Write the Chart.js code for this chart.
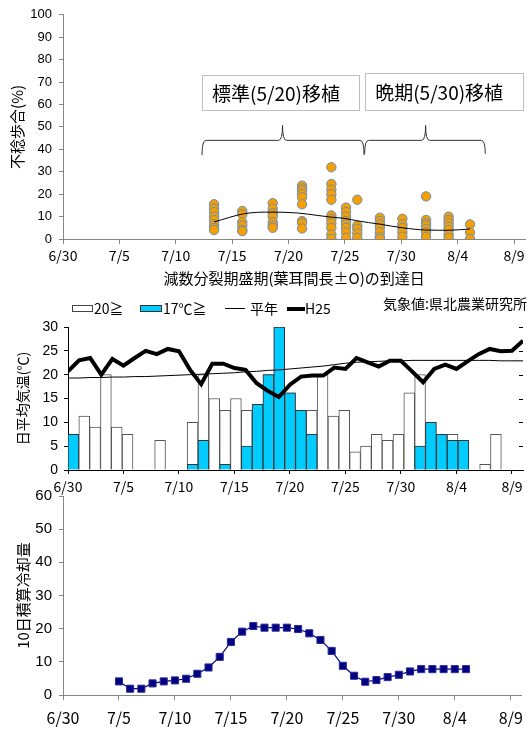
<!DOCTYPE html>
<html><head><meta charset="utf-8">
<script src="https://cdn.jsdelivr.net/npm/chart.js@4/dist/chart.umd.min.js"></script>
<style>
html,body{margin:0;padding:0;background:#fff;}
#wrap{position:relative;width:531px;height:729px;overflow:hidden;font-family:'Noto Sans CJK JP',sans-serif;color:#000;}
canvas{position:absolute;left:0;top:0;width:531px;height:729px;}
.lt{position:absolute;font-size:14px;line-height:16px;white-space:nowrap;}
.sw{position:absolute;box-sizing:border-box;}
</style></head><body>
<div id="wrap">
<canvas id="c1" width="531" height="729"></canvas>
<canvas id="c2" width="531" height="729"></canvas>
<canvas id="c3" width="531" height="729"></canvas>
<div class="sw" style="left:72px;top:305px;width:21px;height:7px;border:1px solid #444;background:#fff;"></div>
<div class="lt" style="left:94px;top:300px;">20≧</div>
<div class="sw" style="left:140px;top:305px;width:22px;height:7px;border:1px solid #333;background:#00CCFF;"></div>
<div class="lt" style="left:163px;top:300px;">17℃≧</div>
<div class="sw" style="left:225px;top:308px;width:20px;height:1px;background:#000;"></div>
<div class="lt" style="left:250px;top:300px;">平年</div>
<div class="sw" style="left:287px;top:307px;width:18px;height:4px;background:#000;"></div>
<div class="lt" style="left:305px;top:300px;">H25</div>
<div class="lt" style="left:383px;top:295px;">気象値:県北農業研究所</div>
</div>
<script>
// ---------- data ----------
const tickDays = [0, 5, 10, 15, 20, 25, 30, 35, 40];
const dayTickLabels = ['6/30', '7/5', '7/10', '7/15', '7/20', '7/25', '7/30', '8/4', '8/9'];

// top panel: sterility (%) by date of meiosis peak (days after 6/30)
const colDays = [13.4, 15.9, 18.6, 21.2, 23.8, 25.1, 26.1, 28.1, 30.1, 32.2, 34.2, 36.1];
const colValues = [
  [15.5, 13.5, 12, 10, 8.5, 6.5, 5, 4],
  [12.5, 11, 7.5, 6, 4, 3.5],
  [16, 13.5, 11.5, 10, 7.5, 6, 5],
  [23.8, 22.5, 21.6, 20, 18.6, 15.5, 8, 7.2, 4.7],
  [32, 24.5, 22, 20, 17.5, 10.5, 9, 7, 5, 2, 0],
  [14, 12, 10, 8, 6.5, 5, 3, 0.5],
  [17.5, 6, 4.5, 2.5, 0.5],
  [9.5, 8, 6.5, 5, 3, 1, 0],
  [9, 6.5, 5, 3, 1],
  [19, 8.5, 7, 6, 4.5, 3, 1],
  [10, 8.5, 7, 5.5, 4, 2, 0.5],
  [6.5, 3, 0]
];
const trendX = [13.4, 16.1, 18.4, 20.8, 22.6, 23.7, 25.1, 26.1, 28.1, 30.1, 32.2, 34.2, 36.1];
const trendY = [7.6, 11.3, 12.0, 11.6, 10.5, 9.8, 9.1, 8.1, 6.6, 5.0, 4.0, 3.9, 4.5];
const plantingLabels = ['標準(5/20)移植', '晩期(5/30)移植'];

// middle panel: daily values from 6/30 (42 days)
const white20 = [7.5, 11.3, 9, 20, 9, 7.5, null, null, 6.2, null, null, 10, 20, 15, 12.5, 15, 12.5, 13.8, 20, 30, 16.2, 12.5, 12.5, 20, 11.3, 12.5, 3.8, 5, 7.5, 6.2, 7.5, 16.2, 20, 10, 7.5, 7.5, 6.2, null, 1.2, 7.5, null, null];
const cyan17 = [7.5, null, null, null, null, null, null, null, null, null, null, 1.2, 6.2, null, 1.2, null, 5, 13.8, 20, 30, 16.2, 12.5, 7.5, null, null, null, null, null, null, null, null, null, 5, 10, 7.5, 6.2, 6.2, null, null, null, null, null];
const h25 = [20.7, 23.0, 23.5, 20.0, 23.3, 21.9, 23.5, 25.0, 24.3, 25.4, 24.9, 21.0, 18.0, 22.3, 22.3, 21.4, 21.0, 18.2, 16.6, 15.3, 17.9, 19.6, 19.8, 19.8, 21.5, 21.2, 23.5, 22.6, 21.7, 22.9, 22.9, 20.7, 18.4, 21.2, 22.1, 21.2, 22.8, 24.3, 25.4, 24.9, 25.0, 27.1];
const normal = [19.3, 19.3, 19.4, 19.4, 19.5, 19.5, 19.6, 19.6, 19.7, 19.8, 19.9, 20.0, 20.1, 20.2, 20.3, 20.4, 20.6, 20.7, 20.9, 21.0, 21.2, 21.4, 21.6, 21.8, 22.1, 22.4, 22.6, 22.7, 22.8, 22.9, 22.9, 23.0, 23.0, 23.0, 23.0, 23.0, 23.0, 23.0, 23.0, 22.9, 22.9, 22.9];

// bottom panel: 10-day accumulated cooling, from 7/5 (day 5) to 8/5
const coolStartDay = 5;
const cool = [4.1, 1.9, 1.9, 3.5, 4.1, 4.4, 4.9, 6.4, 8.3, 11.5, 16.0, 19.1, 20.8, 20.3, 20.3, 20.3, 19.9, 18.6, 16.6, 13.3, 8.8, 5.8, 4.0, 4.5, 5.4, 6.1, 7.1, 7.8, 7.8, 7.8, 7.8, 7.8];

// ---------- styling ----------
const JP = "'Noto Sans CJK JP', sans-serif";
const NUM = "'Liberation Sans', Arial, sans-serif";
const GRAY = '#868686';
Chart.defaults.color = '#000';
const annot = {
  boxes: [{x0: 12.33, x1: 26.26, y0: 57.3, y1: 73.1}, {x0: 26.8, x1: 40.8, y0: 57.7, y1: 74}],
  braces: [{x0: 12.33, xm: 19.47, x1: 26.7, yTop: 44, yTip: 50.7, yEnd: 37.4},
           {x0: 26.75, xm: 32.16, x1: 37.45, yTop: 44, yTip: 50.7, yEnd: 38.0}]
};

function dateAxis(extra) {
  return Object.assign({
    type: 'linear', min: 0, max: 41, offset: false,
    afterBuildTicks: s => { s.ticks = tickDays.map(v => ({value: v})); },
  }, extra);
}
const baseOpts = {responsive: false, maintainAspectRatio: false, animation: false, devicePixelRatio: 1,
  events: []};

// ---------- chart 1 ----------
const dots = [];
colDays.forEach((d, i) => colValues[i].forEach(v => dots.push({x: d, y: v})));

const annotPlugin = {
  id: 'annot',
  afterDraw(chart) {
    const {ctx, scales: {x, y}} = chart;
    ctx.save();
    ctx.strokeStyle = '#333'; ctx.lineWidth = 1;
    annot.braces.forEach(b => {
      const x0 = x.getPixelForValue(b.x0), xm = x.getPixelForValue(b.xm), x1 = x.getPixelForValue(b.x1);
      const yt = y.getPixelForValue(b.yTop), yp = y.getPixelForValue(b.yTip), ye = y.getPixelForValue(b.yEnd);
      const r = 4;
      ctx.beginPath();
      ctx.moveTo(x0, ye);
      ctx.quadraticCurveTo(x0, yt, x0 + r, yt);
      ctx.lineTo(xm - r, yt);
      ctx.quadraticCurveTo(xm, yt, xm, yp);
      ctx.quadraticCurveTo(xm, yt, xm + r, yt);
      ctx.lineTo(x1 - r, yt);
      ctx.quadraticCurveTo(x1, yt, x1, ye);
      ctx.stroke();
    });
    annot.boxes.forEach((b, i) => {
      const l = x.getPixelForValue(b.x0), rr = x.getPixelForValue(b.x1);
      const t = y.getPixelForValue(b.y1), bt = y.getPixelForValue(b.y0);
      ctx.fillStyle = '#fff';
      ctx.fillRect(l, t, rr - l, bt - t);
      ctx.strokeStyle = '#BFBFBF';
      ctx.strokeRect(Math.round(l) + 0.5, Math.round(t) + 0.5, Math.round(rr - l), Math.round(bt - t));
      ctx.fillStyle = '#000';
      ctx.font = "19px " + JP;
      ctx.textBaseline = 'middle';
      ctx.textAlign = 'left';
      ctx.fillText(plantingLabels[i], l + 10, (t + bt) / 2 + 1);
    });
    ctx.restore();
  }
};

new Chart(document.getElementById('c1'), {
  type: 'scatter',
  data: {datasets: [
    {type: 'line', data: trendX.map((x, i) => ({x, y: trendY[i]})), borderColor: '#000', borderWidth: 1,
     pointRadius: 0, cubicInterpolationMode: 'monotone', order: 0},
    {data: dots, pointRadius: 4.7, pointBackgroundColor: '#F5A000', pointBorderColor: '#6A8DBA',
     pointBorderWidth: 1, order: 1}
  ]},
  options: Object.assign({}, baseOpts, {
    layout: {padding: {top: 12, right: 2, left: 0, bottom: 729 - 290}},
    plugins: {legend: {display: false}, tooltip: {enabled: false}},
    scales: {
      x: dateAxis({
        grid: {drawOnChartArea: false, tickLength: 5, color: GRAY},
        border: {color: GRAY},
        ticks: {padding: 3, font: {family: JP, size: 14}, autoSkip: false, maxRotation: 0,
                callback: (v, i) => dayTickLabels[i]},
        title: {display: true, text: '減数分裂期盛期(葉耳間長±O)の到達日', font: {family: JP, size: 15},
                padding: {top: 0, bottom: 3}},
        afterFit: s => { s.height = 51; }
      }),
      y: {min: 0, max: 100,
        ticks: {stepSize: 10, font: {family: NUM, size: 13}, padding: 7},
        grid: {drawOnChartArea: false, tickLength: 4, color: GRAY},
        border: {color: GRAY},
        title: {display: true, text: '不稔歩合(%)', font: {family: JP, size: 15}, padding: {top: 8, bottom: 0}},
        afterFit: s => { s.width = 63; }}
    }
  }),
  plugins: [annotPlugin]
});

// ---------- chart 2 ----------
const rightTicks = {
  id: 'rightTicks',
  afterDraw(chart) {
    const {ctx, chartArea, scales: {y}} = chart;
    ctx.save();
    ctx.strokeStyle = '#000'; ctx.lineWidth = 1;
    y.ticks.forEach(t => {
      const py = Math.round(y.getPixelForValue(t.value)) + 0.5;
      ctx.beginPath(); ctx.moveTo(chartArea.right - 4, py); ctx.lineTo(chartArea.right, py); ctx.stroke();
    });
    ctx.restore();
  }
};
new Chart(document.getElementById('c2'), {
  type: 'bar',
  data: {labels: h25.map((_, i) => i), datasets: [
    {type: 'line', label: 'H25', data: h25.map((v, i) => ({x: i, y: v})), xAxisID: 'x', borderColor: '#000',
     borderWidth: 4, pointRadius: 0, borderJoinStyle: 'miter', order: 0},
    {type: 'line', label: '平年', data: normal.map((v, i) => ({x: i, y: v})), xAxisID: 'x', borderColor: '#000',
     borderWidth: 1, pointRadius: 0, order: 1},
    {label: '17℃≧', data: cyan17, xAxisID: 'xb', backgroundColor: '#00CCFF', borderColor: '#333',
     borderWidth: 1, barPercentage: 1, categoryPercentage: 1, grouped: false, order: 2},
    {label: '20≧', data: white20, xAxisID: 'xb', backgroundColor: '#fff', borderColor: '#555',
     borderWidth: 1, barPercentage: 1, categoryPercentage: 1, grouped: false, order: 3}
  ]},
  options: Object.assign({}, baseOpts, {
    layout: {padding: {top: 327, right: 8, left: 0, bottom: 729 - 500}},
    plugins: {legend: {display: false}, tooltip: {enabled: false}},
    scales: {
      x: dateAxis({
        grid: {drawOnChartArea: false, offset: false, tickLength: 4, color: '#000'},
        border: {color: '#000'},
        ticks: {padding: 4, font: {family: JP, size: 14}, autoSkip: false, maxRotation: 0,
                callback: (v, i) => dayTickLabels[i]},
        afterFit: s => { s.height = 30; }
      }),
      xb: {type: 'category', display: false, offset: true},
      y: {min: 0, max: 30,
        ticks: {stepSize: 5, font: {family: NUM, size: 14}, padding: 6},
        grid: {drawOnChartArea: false, tickLength: 4, color: '#000'},
        border: {color: '#000'},
        title: {display: true, text: '日平均気温(℃)', font: {family: JP, size: 14}, padding: {top: 14, bottom: 0}},
        afterFit: s => { s.width = 68; }}
    }
  }),
  plugins: [rightTicks]
});

// ---------- chart 3 ----------
new Chart(document.getElementById('c3'), {
  type: 'line',
  data: {datasets: [
    {data: cool.map((v, i) => ({x: coolStartDay + i, y: v})), borderColor: '#000080', borderWidth: 1.2,
     pointStyle: 'rect', pointRadius: 5, pointBackgroundColor: '#000080', pointBorderColor: '#2B2B9A',
     pointBorderWidth: 1}
  ]},
  options: Object.assign({}, baseOpts, {
    layout: {padding: {top: 496, right: 9, left: 0, bottom: 0}},
    plugins: {legend: {display: false}, tooltip: {enabled: false}},
    scales: {
      x: dateAxis({
        position: 'bottom',
        grid: {drawOnChartArea: false, tickLength: 5, color: GRAY},
        border: {color: GRAY},
        ticks: {padding: 8, font: {family: JP, size: 16}, autoSkip: false, maxRotation: 0,
                callback: (v, i) => dayTickLabels[i]},
        afterFit: s => { s.height = 34; }
      }),
      y: {min: 0, max: 60,
        ticks: {stepSize: 10, font: {family: NUM, size: 15}, padding: 7},
        grid: {drawOnChartArea: false, tickLength: 4, color: GRAY},
        border: {color: GRAY},
        title: {display: true, text: '10日積算冷却量', font: {family: JP, size: 15}, padding: {top: 14, bottom: 0}},
        afterFit: s => { s.width = 63; }}
    }
  })
});
</script>
</body></html>
